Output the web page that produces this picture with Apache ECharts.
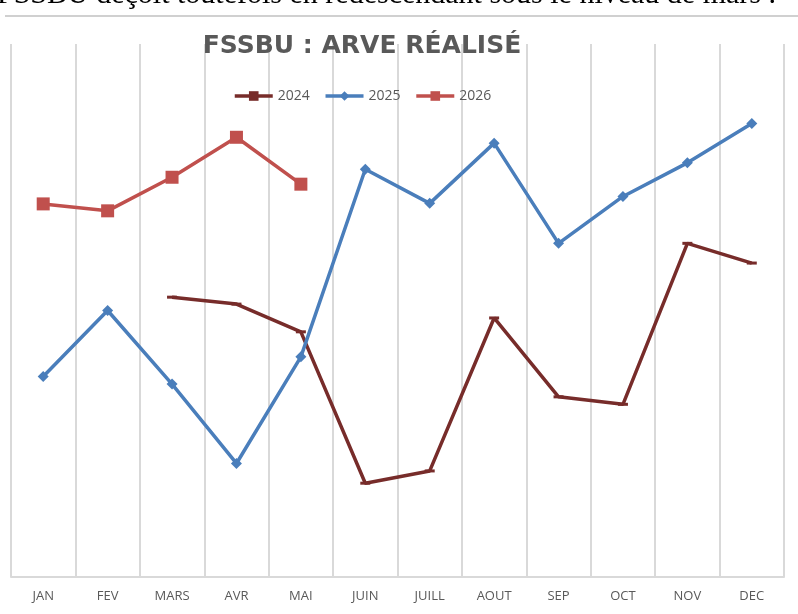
<!DOCTYPE html>
<html>
<head>
<meta charset="utf-8">
<style>
  html, body { margin: 0; padding: 0; background: #fff; }
  #chart { width: 798px; height: 614px; }
</style>
<script src="https://cdn.jsdelivr.net/npm/echarts@6/dist/echarts.min.js"></script>
</head>
<body>
<div id="chart"></div>
<script>
// mois
var months = ["JAN", "FEV", "MARS", "AVR", "MAI", "JUIN", "JUILL", "AOUT", "SEP", "OCT", "NOV", "DEC"];
// valeurs (échelle relative 0-100, pas d'axe affiché)
var v2024 = [null, null, 52.5, 51.2, 46.0, 17.6, 19.9, 48.6, 33.8, 32.4, 62.6, 58.9];
var v2025 = [37.6, 50.0, 36.2, 21.3, 41.3, 76.5, 70.1, 81.4, 62.6, 71.4, 77.7, 85.1];
var v2026 = [70.0, 68.7, 75.0, 82.5, 73.7, null, null, null, null, null, null, null];

var chart = echarts.init(document.getElementById("chart"));
chart.setOption({
  animation: false,
  title: {
    text: "FSSBU : ARVE RÉALISÉ",
    left: 357,
    textAlign: "center",
    top: 29,
    textStyle: {
      color: "#595959",
      fontFamily: "DejaVu Sans",
      fontWeight: "bold",
      fontSize: 25
    }
  },
  // bout de texte du document coupé en haut
  graphic: [
    {
      type: "text",
      left: -3,
      top: -20,
      style: {
        text: "FSSBU deçoit toutefois en redescendant sous le niveau de mars .",
        font: "normal 30px 'Liberation Serif'",
        fill: "#000"
      }
    },
    {
      type: "rect",
      shape: { x: 5, y: 15, width: 793, height: 2 },
      style: { fill: "#d0d0d0" }
    }
  ],
  legend: {
    top: 84,
    left: 228,
    itemWidth: 38,
    itemHeight: 12,
    itemGap: 14,
    lineStyle: { width: 3.5 },
    textStyle: { color: "#595959", fontFamily: "Open Sans", fontSize: 14 },
    data: ["2024", "2025", "2026"]
  },
  grid: { left: 11, right: 14, top: 44, bottom: 37 },
  xAxis: {
    type: "category",
    data: months,
    boundaryGap: true,
    axisLine: { lineStyle: { color: "#d9d9d9", width: 2 } },
    axisTick: { show: false },
    splitLine: { show: true, lineStyle: { color: "#d9d9d9", width: 2 } },
    axisLabel: {
      color: "#595959",
      fontFamily: "Open Sans",
      fontSize: 13,
      margin: 13
    }
  },
  yAxis: {
    type: "value",
    min: 0,
    max: 100,
    show: false,
    splitLine: { show: false }
  },
  series: [
    {
      name: "2024",
      type: "line",
      data: v2024,
      color: "#772c2a",
      lineStyle: { width: 3.5 },
      symbol: "rect",
      symbolSize: [10, 3],
      showAllSymbol: true
    },
    {
      name: "2025",
      type: "line",
      data: v2025,
      color: "#4a7ebb",
      lineStyle: { width: 3.5 },
      symbol: "diamond",
      symbolSize: 11,
      showAllSymbol: true
    },
    {
      name: "2026",
      type: "line",
      data: v2026,
      color: "#c0504d",
      lineStyle: { width: 3.5 },
      symbol: "rect",
      symbolSize: 13,
      showAllSymbol: true
    }
  ]
});
</script>
</body>
</html>
